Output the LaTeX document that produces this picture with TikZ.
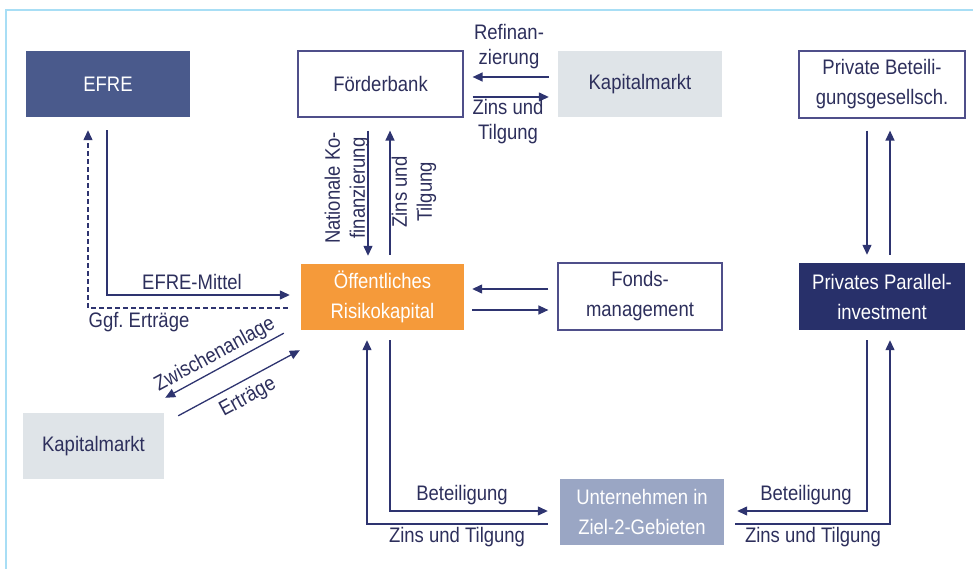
\documentclass[tikz,border=0pt]{standalone}
\usepackage{fontspec}
\setmainfont[FakeStretch=0.88]{Liberation Sans}
\usetikzlibrary{arrows.meta,calc}
\definecolor{navy}{HTML}{2E3470}
\definecolor{txt}{HTML}{2D2F5C}
\definecolor{efrec}{HTML}{4A5A8C}
\definecolor{greyc}{HTML}{DFE4E8}
\definecolor{orangec}{HTML}{F59A3A}
\definecolor{ppic}{HTML}{28306A}
\definecolor{unc}{HTML}{9AA6C4}
\definecolor{framec}{HTML}{A8DEF5}
\definecolor{borderc}{HTML}{4F4F8A}
\frenchspacing
\tikzset{
  box/.style={minimum width=164pt, minimum height=66pt, inner sep=0pt, align=center,
    font=\fontsize{21}{30}\selectfont},
  wbox/.style={box, draw=borderc, line width=1.2pt, fill=white, text=txt},
  arr/.style={draw=navy, line width=1.3pt, -{Triangle[length=10pt,width=9pt]}},
  lbl/.style={text=txt, align=center, inner sep=0pt, font=\fontsize{21}{25}\selectfont}
}
\begin{document}
\begin{tikzpicture}[x=1pt,y=-1pt]
\useasboundingbox (0,0) rectangle (973,569);
% frame
\draw[framec, line width=2.5pt] (6,569) -- (6,10) -- (973,10);
% boxes
\node[box, fill=efrec, text=white] (efre) at (108,84) {EFRE};
\node[wbox, minimum width=165pt] (foerder) at (380.5,84) {Förderbank};
\node[box, fill=greyc, text=txt] (kmtop) at (640,84.5) {Kapitalmarkt};
\node[wbox, minimum width=166pt, minimum height=67pt] (pbg) at (882,84.5) {Private Beteili-\\gungsgesellsch.};
\node[box, fill=orangec, text=white, minimum width=163pt] (oeff) at (382.5,297) {Öffentliches\\Risikokapital};
\node[wbox, minimum height=67pt] (fonds) at (640,296.5) {Fonds-\\management};
\node[box, fill=ppic, text=white, minimum width=166pt, minimum height=67pt] (ppi) at (882,296.5) {Privates Parallel-\\investment};
\node[box, fill=greyc, text=txt, minimum width=141pt] (kmleft) at (93.5,446) {Kapitalmarkt};
\node[box, fill=unc, text=white] (untern) at (642,512) {Unternehmen in\\Ziel-2-Gebieten};
% EFRE <-> Oeff
\draw[arr, shorten <=13pt, shorten >=11pt] (107,0 |- efre.south) |- (oeff.west |- 0,295);
\draw[arr, dashed, dash pattern=on 5pt off 3pt, shorten <=13pt, shorten >=13pt] (oeff.west |- 0,308) -| (88,0 |- efre.south);
\node[lbl] (l1) at (192,282) {EFRE-Mittel};
\node[lbl] (l2) at (139,322) {Ggf.\ Erträge};
% Foerderbank <-> Oeff
\draw[arr, shorten <=13pt, shorten >=8pt] (368,0 |- foerder.south) -- (368,0 |- oeff.north);
\draw[arr, shorten <=9pt, shorten >=13pt] (390,0 |- oeff.north) -- (390,0 |- foerder.south);
\node[lbl, rotate=90] (l3) at (347,188) {Nationale Ko-\\finanzierung};
\node[lbl, rotate=90] (l4) at (414,192) {Zins und\\Tilgung};
% Kapitalmarkt <-> Foerderbank
\draw[arr, shorten <=9pt, shorten >=9pt] (kmtop.west |- 0,77) -- (foerder.east |- 0,77);
\draw[arr, shorten <=9pt, shorten >=9pt] (foerder.east |- 0,97) -- (kmtop.west |- 0,97);
\node[lbl] (l5) at (509,47) {Refinan-\\zierung};
\node[lbl] (l6) at (508,122) {Zins und\\Tilgung};
% Fonds <-> Oeff
\draw[arr, shorten <=9pt, shorten >=8pt] (fonds.west |- 0,289) -- (oeff.east |- 0,289);
\draw[arr, shorten <=8pt, shorten >=9pt] (oeff.east |- 0,310) -- (fonds.west |- 0,310);
% PBG <-> PPI
\draw[arr, shorten <=12pt, shorten >=8pt] (867,0 |- pbg.south) -- (867,0 |- ppi.north);
\draw[arr, shorten <=8pt, shorten >=12pt] (890,0 |- ppi.north) -- (890,0 |- pbg.south);
% Oeff <-> Kapitalmarkt left
\coordinate (zs) at ($(oeff.south west)+(-17,3)$);
\coordinate (ze) at ($(kmleft.north east)+(1,-15)$);
\coordinate (es) at ($(kmleft.north east)+(14,3)$);
\coordinate (ee) at ($(oeff.south west)+(-1,20)$);
\draw[arr] (zs) -- (ze);
\draw[arr] (es) -- (ee);
\node[lbl, rotate=28.5] (l7) at (215,355) {Zwischenanlage};
\node[lbl, rotate=28.5] (l8) at (248,398) {Erträge};
% Oeff <-> Unternehmen
\draw[arr, shorten <=10pt, shorten >=12pt] (390,0 |- oeff.south) |- (untern.west |- 0,511);
\draw[arr, shorten <=12pt, shorten >=10pt] (untern.west |- 0,524) -| (367,0 |- oeff.south);
\node[lbl] (l9) at (462,495) {Beteiligung};
\node[lbl] (l10) at (457,537) {Zins und Tilgung};
% PPI <-> Unternehmen
\draw[arr, shorten <=10pt, shorten >=13pt] (867,0 |- ppi.south) |- (untern.east |- 0,511);
\draw[arr, shorten <=11pt, shorten >=10pt] (untern.east |- 0,524) -| (890,0 |- ppi.south);
\node[lbl] (l11) at (806,495) {Beteiligung};
\node[lbl] (l12) at (813,537) {Zins und Tilgung};
\end{tikzpicture}
\end{document}
